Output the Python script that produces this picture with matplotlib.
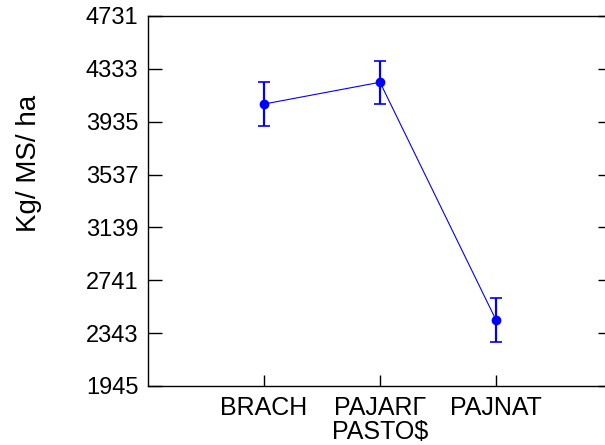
import numpy as np
import matplotlib.pyplot as plt

# data
pastos = ["BRACH", "PAJARΓ", "PAJNAT"]
kg_ms_ha = [4068, 4232, 2442]
error = [163, 162, 163]
y_ticks = [1945, 2343, 2741, 3139, 3537, 3935, 4333, 4731]

plt.rcParams['font.family'] = ['Liberation Sans', 'DejaVu Sans']

fig = plt.figure(figsize=(6.05, 4.45), dpi=100)
# axes box runs a bit past the right edge, as in the reference
ax = fig.add_axes([148/605, 1 - 386/445, 464/605, 370/445])

x = np.arange(1, len(pastos) + 1)
ax.errorbar(x, kg_ms_ha, yerr=error, color='#0000ff', lw=0.8,
            marker='o', ms=6, elinewidth=1.6, capsize=4.5, capthick=1.2)

ax.set_xlim(0, 4)
ax.set_ylim(y_ticks[0], y_ticks[-1])
ax.set_xticks(x)
ax.set_xticklabels(pastos)
ax.set_yticks(y_ticks)

ax.tick_params(axis='y', direction='in', length=10, width=1, labelsize=17,
               pad=7, right=True)
ax.tick_params(axis='x', direction='in', length=8, width=1, labelsize=18,
               pad=7)
for s in ax.spines.values():
    s.set_linewidth(1)

ax.set_xlabel("PASTO$", fontsize=18, va='top')
ax.xaxis.set_label_coords(0.5, -0.093)
fig.text(28.5/605, 1 - 163.5/445, "Kg/ MS/ ha", rotation=90,
         ha='center', va='center', fontsize=20)

fig.savefig("out.png", dpi=100)
